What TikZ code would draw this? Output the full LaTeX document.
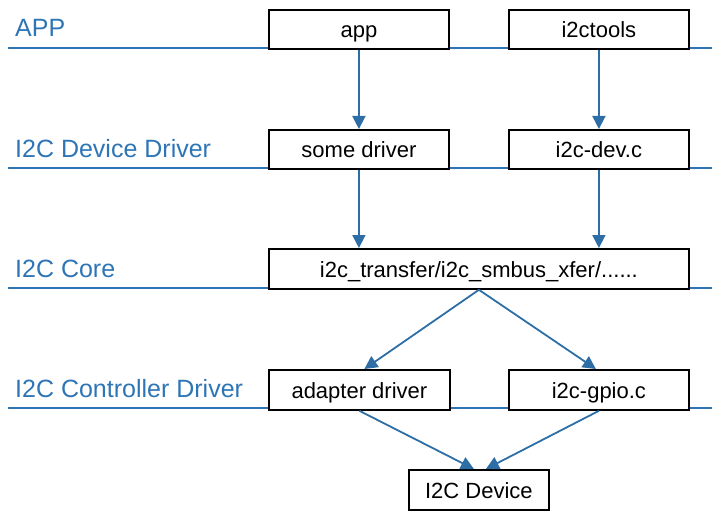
\documentclass[tikz,border=0pt]{standalone}
\usepackage{fontspec}
\setmainfont{Liberation Sans}
\usetikzlibrary{arrows.meta}
\definecolor{lblue}{RGB}{46,117,182}
\definecolor{ablue}{RGB}{44,110,165}
\begin{document}
\begin{tikzpicture}[x=1pt,y=-1pt,
  layer/.style={anchor=base west,text=lblue,font=\fontsize{25}{25}\selectfont,inner sep=0pt},
  box/.style={draw=black,line width=1.8pt,fill=white,font=\fontsize{22}{22}\selectfont,inner sep=0pt,anchor=north west,text height=19pt,text depth=2pt},
  sep/.style={draw=lblue,line width=1.3pt},
  arr/.style={draw=ablue,line width=1.8pt,-{Triangle[length=13pt,width=13pt]}}]
\useasboundingbox (0,0) rectangle (714,516);
% layer lines
\foreach \yy/\nm in {48/la,168/lb,288/lc,408/ld}{
  \coordinate (\nm w) at (8,\yy);
  \coordinate (\nm e) at (712,\yy);
  \draw[sep] (\nm w) -- (\nm e);
}
% layer labels
\node[layer] (tapp) at (15,37) {APP};
\node[layer] (tdd) at (15,157) {I2C Device Driver};
\node[layer] (tcore) at (15,277) {I2C Core};
\node[layer] (tctl) at (15,397) {I2C Controller Driver};
% boxes
\node[box,minimum width=180pt,minimum height=39pt] (app) at (268,9) {app};
\node[box,minimum width=180pt,minimum height=39pt] (tools) at (508,9) {i2ctools};
\node[box,minimum width=180pt,minimum height=39pt] (some) at (268,129) {some driver};
\node[box,minimum width=180pt,minimum height=39pt] (dev) at (508,129) {i2c-dev.c};
\node[box,minimum width=420pt,minimum height=40pt] (core) at (268,248) {i2c\_transfer/i2c\_smbus\_xfer/......};
\node[box,minimum width=181pt,minimum height=40pt] (adap) at (268,369) {adapter driver};
\node[box,minimum width=180pt,minimum height=40pt] (gpio) at (508,369) {i2c-gpio.c};
\node[box,minimum width=140pt,minimum height=40pt] (i2cdev) at (408,469) {I2C Device};
% arrows
\draw[arr] (app.south) -- (some.north);
\draw[arr] (tools.south) -- (dev.north);
\draw[arr] (some.south) -- (some.south |- core.north);
\draw[arr] (dev.south) -- (dev.south |- core.north);
\draw[arr] (core.south) -- ([xshift=5pt]adap.north);
\draw[arr] (core.south) -- ([xshift=-3pt]gpio.north);
\draw[arr] (adap.south) -- ([xshift=-5pt]i2cdev.north);
\draw[arr] (gpio.south) -- ([xshift=7pt]i2cdev.north);
\end{tikzpicture}
\end{document}
